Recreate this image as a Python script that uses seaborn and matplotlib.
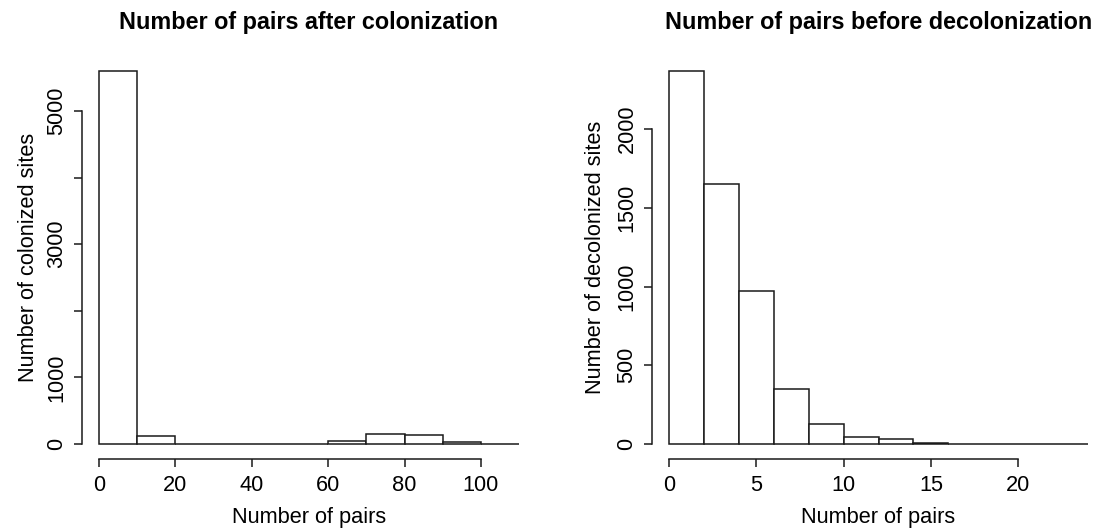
import numpy as np
import pandas as pd
import matplotlib
matplotlib.use("Agg")
import matplotlib.pyplot as plt
import seaborn as sns

# ---- data ----
left_edges = [0, 10, 20, 30, 40, 50, 60, 70, 80, 90, 100, 110]
left_counts = [5600, 120, 0, 0, 0, 0, 45, 150, 135, 25, 0]
left_xticks = [0, 20, 40, 60, 80, 100]
left_yticks = [0, 1000, 2000, 3000, 4000, 5000]
left_ylabels = ["0", "1000", "", "3000", "", "5000"]

right_edges = [0, 2, 4, 6, 8, 10, 12, 14, 16, 18, 20, 22, 24]
right_counts = [2370, 1650, 975, 352, 130, 42, 34, 6, 0, 0, 0, 0]
right_xticks = [0, 5, 10, 15, 20]
right_yticks = [0, 500, 1000, 1500, 2000]
right_ylabels = ["0", "500", "1000", "1500", "2000"]

titles = ["Number of pairs after colonization", "Number of pairs before decolonization"]
xlabels = ["Number of pairs", "Number of pairs"]
ylabels = ["Number of colonized sites", "Number of decolonized sites"]

sns.set_theme(style="white")
plt.rcParams['font.family'] = ['Liberation Sans', 'DejaVu Sans']
plt.rcParams['text.color'] = 'black'
plt.rcParams['axes.labelcolor'] = 'black'

W, H = 1109, 528
fig = plt.figure(figsize=(W / 100, H / 100), dpi=100)

def px_axes(x0, y0, x1, y1):
    return fig.add_axes([x0 / W, 1 - y1 / H, (x1 - x0) / W, (y1 - y0) / H])

axL = px_axes(82, 56, 536, 459)
axR = px_axes(652, 56, 1105, 459)

panels = [
    (axL, left_edges, left_counts, left_xticks, left_yticks, left_ylabels, -0.118),
    (axR, right_edges, right_counts, right_xticks, right_yticks, right_ylabels, -0.124),
]

lc = "#1a1a1a"
for i, (ax, edges, counts, xt, yt, yl, ylx) in enumerate(panels):
    e = np.array(edges, dtype=float)
    centers = (e[:-1] + e[1:]) / 2
    df = pd.DataFrame({"x": centers, "w": np.array(counts, dtype=float)})
    sns.histplot(data=df, x="x", weights="w", bins=list(edges), ax=ax,
                 color="white", edgecolor=lc, linewidth=1.1, alpha=1)
    lo, hi = e[0], e[-1]
    pad = 0.04 * (hi - lo)
    ax.set_xlim(lo - pad, hi + pad)
    m = max(counts)
    ax.set_ylim(-0.04 * m, 1.04 * m)
    ax.set_xticks(xt)
    ax.set_xticklabels([str(v) for v in xt])
    ax.set_yticks(yt)
    ax.set_yticklabels(yl, rotation=90, va="center")
    for s in ["top", "right"]:
        ax.spines[s].set_visible(False)
    for s in ["left", "bottom"]:
        ax.spines[s].set_color(lc)
        ax.spines[s].set_linewidth(1.1)
    ax.spines["bottom"].set_bounds(xt[0], xt[-1])
    ax.spines["left"].set_bounds(yt[0], yt[-1])
    ax.tick_params(axis="both", which="major", direction="out", length=5.5,
                   width=1.1, color=lc, labelsize=15.7, labelcolor="black",
                   bottom=True, left=True)
    ax.tick_params(axis="x", pad=6)
    ax.tick_params(axis="y", pad=5)
    ax.set_xlabel(xlabels[i], fontsize=15.7, color="black")
    ax.set_ylabel(ylabels[i], fontsize=15.7, color="black")
    ax.xaxis.set_label_coords(0.5, -0.144)
    ax.xaxis.label.set_va("center")
    ax.yaxis.set_label_coords(ylx, 0.5)
    ax.yaxis.label.set_va("center")
    ax.set_title(titles[i], fontsize=16.8, fontweight="bold", y=1.082, va="center",
                 pad=0, color="black")
    ax.grid(False)
    ax.set_facecolor("white")

fig.savefig("out.png", dpi=100, facecolor="white")
